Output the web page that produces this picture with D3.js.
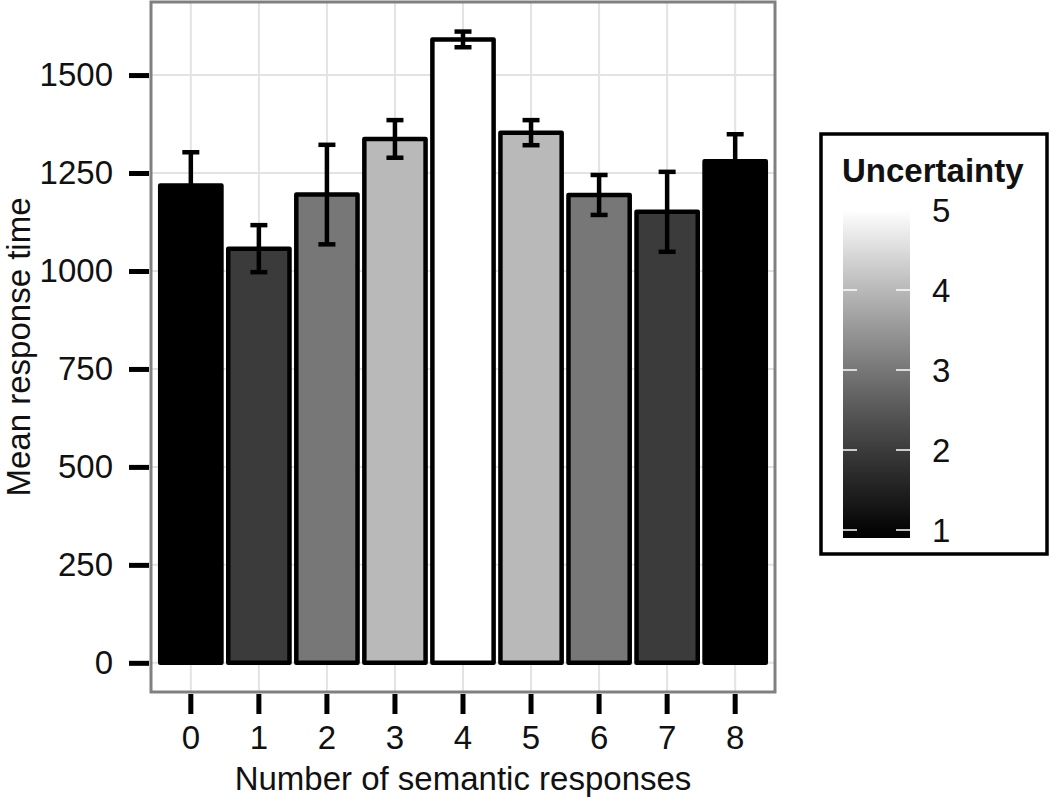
<!DOCTYPE html>
<html><head><meta charset="utf-8">
<script src="https://cdn.jsdelivr.net/npm/d3@7"></script>
<style>body{margin:0;background:#fff}svg{display:block}text{font-family:"Liberation Sans",Arial,sans-serif}</style>
</head><body><svg id="c" width="1050" height="801"></svg>
<script>
const categories = ["0","1","2","3","4","5","6","7","8"];
const meanRT = [1218, 1057, 1195, 1337, 1591, 1353, 1194, 1151, 1280];
const errRT  = [85, 60, 127, 48, 20, 32, 51, 102, 69];
const uncertainty = [1, 2, 3, 4, 5, 4, 3, 2, 1];
const yTicks = [0, 250, 500, 750, 1000, 1250, 1500];
const legendTicks = [1, 2, 3, 4, 5];

const FS = 33;
const svg = d3.select("#c");
const P = {l:150, r:776, t:1, b:693};
const x = d3.scaleBand().domain(categories).range([P.l, P.r]).paddingInner(0.1).paddingOuter(0.15);
const y = d3.scaleLinear().domain([-77, 1689]).range([P.b, P.t]);
const col = d3.scaleLinear().domain([1,5]).range(["#000000","#ffffff"]).interpolate(d3.interpolateLab);

svg.append("rect").attr("x",P.l).attr("y",P.t).attr("width",P.r-P.l).attr("height",P.b-P.t).attr("fill","#fff");
svg.append("g").selectAll("line").data(yTicks).join("line")
  .attr("x1",P.l).attr("x2",P.r).attr("y1",d=>y(d)).attr("y2",d=>y(d))
  .attr("stroke","#e3e3e3").attr("stroke-width",2);
svg.append("g").selectAll("line").data(categories).join("line")
  .attr("y1",P.t).attr("y2",P.b).attr("x1",d=>x(d)+x.bandwidth()/2).attr("x2",d=>x(d)+x.bandwidth()/2)
  .attr("stroke","#e3e3e3").attr("stroke-width",2);

svg.append("g").selectAll("rect").data(categories).join("rect")
  .attr("x",d=>x(d)).attr("width",x.bandwidth())
  .attr("y",(d,i)=>y(meanRT[i])).attr("height",(d,i)=>y(0)-y(meanRT[i]))
  .attr("fill",(d,i)=>col(uncertainty[i])).attr("stroke","#000").attr("stroke-width",4.5)
  .attr("stroke-linejoin","round");

const eb = svg.append("g").attr("stroke","#000").attr("stroke-width",4.5);
categories.forEach((c,i)=>{
  const cx = x(c)+x.bandwidth()/2, hw = 8.5;
  const t = y(meanRT[i]+errRT[i]), b = y(meanRT[i]-errRT[i]);
  eb.append("line").attr("x1",cx).attr("x2",cx).attr("y1",t).attr("y2",b);
  eb.append("line").attr("x1",cx-hw).attr("x2",cx+hw).attr("y1",t).attr("y2",t);
  eb.append("line").attr("x1",cx-hw).attr("x2",cx+hw).attr("y1",b).attr("y2",b);
});

svg.append("rect").attr("x",P.l+1).attr("y",P.t+1).attr("width",P.r-P.l-2).attr("height",P.b-P.t-2)
  .attr("fill","none").attr("stroke","#808080").attr("stroke-width",3);

const yAxis = d3.axisLeft(y).tickValues(yTicks).tickFormat(d3.format("d")).tickSize(20).tickPadding(16);
const gy = svg.append("g").attr("transform",`translate(${P.l-1},0)`).call(yAxis);
gy.select(".domain").remove();
gy.selectAll(".tick line").attr("stroke","#000").attr("stroke-width",5);
gy.selectAll(".tick text").attr("font-size",FS).attr("fill","#111").attr("font-family","Liberation Sans, Arial, sans-serif");

const xAxis = d3.axisBottom(x).tickSize(20).tickPadding(12);
const gx = svg.append("g").attr("transform",`translate(0,${P.b+1})`).call(xAxis);
gx.select(".domain").remove();
gx.selectAll(".tick line").attr("stroke","#000").attr("stroke-width",5);
gx.selectAll(".tick text").attr("font-size",FS).attr("fill","#111").attr("font-family","Liberation Sans, Arial, sans-serif");

svg.append("text").attr("x",(P.l+P.r)/2).attr("y",790).attr("text-anchor","middle")
  .attr("font-size",FS).attr("fill","#111").text("Number of semantic responses");
svg.append("text").attr("transform",`translate(30,${(P.t+P.b)/2}) rotate(-90)`).attr("text-anchor","middle")
  .attr("font-size",FS).attr("fill","#111").text("Mean response time");

const L = svg.append("g");
L.append("rect").attr("x",821).attr("y",134).attr("width",226).attr("height",420)
  .attr("fill","#fff").attr("stroke","#000").attr("stroke-width",3.5);
L.append("text").attr("x",842).attr("y",182).attr("font-size",FS).attr("font-weight","bold")
  .attr("fill","#111").text("Uncertainty");
const ly = d3.scaleLinear().domain([1,5]).range([530,210]);
const defs = svg.append("defs");
const grad = defs.append("linearGradient").attr("id","ug").attr("x1",0).attr("x2",0).attr("y1",1).attr("y2",0);
const barTop = 210, barBot = 538;
d3.range(0,1.0001,0.05).forEach(f=>{
  const py = barBot - f*(barBot-barTop);
  const v = Math.max(1, Math.min(5, ly.invert(py)));
  grad.append("stop").attr("offset",f).attr("stop-color",col(v));
});
L.append("rect").attr("x",843).attr("y",barTop).attr("width",67).attr("height",barBot-barTop).attr("fill","url(#ug)");
legendTicks.forEach(v=>{
  const py = ly(v);
  L.append("line").attr("x1",843).attr("x2",857).attr("y1",py).attr("y2",py).attr("stroke","#fff").attr("stroke-width",1.5);
  L.append("line").attr("x1",896).attr("x2",910).attr("y1",py).attr("y2",py).attr("stroke","#fff").attr("stroke-width",1.5);
  L.append("text").attr("x",932).attr("y",py).attr("dy","0.35em").attr("font-size",FS).attr("fill","#111").text(v);
});
</script></body></html>
